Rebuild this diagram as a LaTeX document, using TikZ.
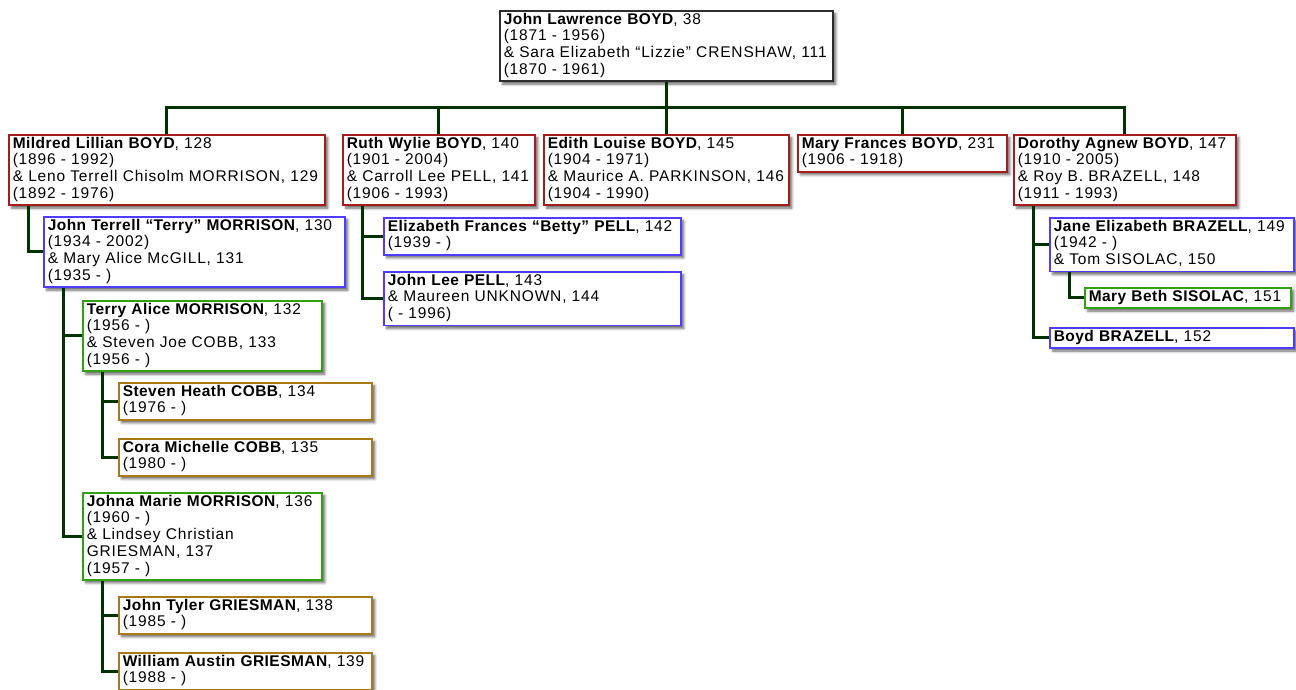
\documentclass[tikz,border=0pt]{standalone}
\usepackage{fontspec}
\setmainfont{Liberation Sans}[LetterSpace=5.4,BoldFeatures={LetterSpace=3}]
\usetikzlibrary{shadows.blur}
\definecolor{linkgreen}{RGB}{0,51,0}
\definecolor{rootgray}{RGB}{45,45,45}
\definecolor{genred}{RGB}{165,28,28}
\definecolor{genblue}{RGB}{80,60,255}
\definecolor{gengreen}{RGB}{50,160,20}
\definecolor{gengold}{RGB}{170,120,20}
% long lines may run into the right padding instead of wrapping
\newcommand\boxpar{\parindent=0pt\rightskip=-24pt plus 1fil\relax\hyphenpenalty=10000\relax}
\tikzset{
  box/.style={rectangle,draw,line width=1.5pt,fill=white,anchor=north west,
              inner xsep=4pt,inner ysep=1.8pt,font=\fontsize{15.5}{16.7}\selectfont,
              execute at begin node={\boxpar\strut},execute at end node=\strut,
              blur shadow={shadow xshift=3pt,shadow yshift=-3pt,shadow blur radius=2.5pt,
                           shadow blur steps=6,shadow opacity=60}},
  rootbox/.style={box,draw=rootgray},
  rbox/.style={box,draw=genred},
  bbox/.style={box,draw=genblue},
  gbox/.style={box,draw=gengreen},
  obox/.style={box,draw=gengold},
  ln/.style={draw=linkgreen,line width=3pt},
}
\begin{document}
\begin{tikzpicture}[x=1pt,y=-1pt]
  \useasboundingbox (0,0) rectangle (1296,689);
  % parents
  \node[rootbox,text width=325pt] (jlboyd) at (499,10)
    {\textbf{John Lawrence BOYD}, 38\\(1871 - 1956)\\\& Sara Elizabeth “Lizzie” CRENSHAW, 111\\(1870 - 1961)};
  % children
  \node[rbox,text width=308pt] (mildred) at (8,134)
    {\textbf{Mildred Lillian BOYD}, 128\\(1896 - 1992)\\\& Leno Terrell Chisolm MORRISON, 129\\(1892 - 1976)};
  \node[rbox,text width=184pt] (ruth) at (342,134)
    {\textbf{Ruth Wylie BOYD}, 140\\(1901 - 2004)\\\& Carroll Lee PELL, 141\\(1906 - 1993)};
  \node[rbox,text width=237pt] (edith) at (543,134)
    {\textbf{Edith Louise BOYD}, 145\\(1904 - 1971)\\\& Maurice A. PARKINSON, 146\\(1904 - 1990)};
  \node[rbox,text width=201pt] (maryfr) at (797,134)
    {\textbf{Mary Frances BOYD}, 231\\(1906 - 1918)};
  \node[rbox,text width=214pt] (dorothy) at (1013,134)
    {\textbf{Dorothy Agnew BOYD}, 147\\(1910 - 2005)\\\& Roy B. BRAZELL, 148\\(1911 - 1993)};
  % grandchildren
  \node[bbox,text width=293pt] (jterry) at (43,216)
    {\textbf{John Terrell “Terry” MORRISON}, 130\\(1934 - 2002)\\\& Mary Alice McGILL, 131\\(1935 - )};
  \node[bbox,text width=289pt] (betty) at (383,217)
    {\textbf{Elizabeth Frances “Betty” PELL}, 142\\(1939 - )};
  \node[bbox,text width=289pt] (jlee) at (383,271)
    {\textbf{John Lee PELL}, 143\\\& Maureen UNKNOWN, 144\\( - 1996)};
  \node[bbox,text width=236pt] (jane) at (1049,217)
    {\textbf{Jane Elizabeth BRAZELL}, 149\\(1942 - )\\\& Tom SISOLAC, 150};
  \node[bbox,text width=236pt] (boyd) at (1049,327)
    {\textbf{Boyd BRAZELL}, 152};
  % great-grandchildren
  \node[gbox,text width=198pt] (marybeth) at (1084,287)
    {\textbf{Mary Beth SISOLAC}, 151};
  \node[gbox,text width=231pt] (terry) at (82,300)
    {\textbf{Terry Alice MORRISON}, 132\\(1956 - )\\\& Steven Joe COBB, 133\\(1956 - )};
  \node[gbox,text width=231pt] (johna) at (82,492)
    {\textbf{Johna Marie MORRISON}, 136\\(1960 - )\\\& Lindsey Christian\\GRIESMAN, 137\\(1957 - )};
  \node[obox,text width=245pt] (steven) at (118,382)
    {\textbf{Steven Heath COBB}, 134\\(1976 - )};
  \node[obox,text width=245pt] (cora) at (118,438)
    {\textbf{Cora Michelle COBB}, 135\\(1980 - )};
  \node[obox,text width=245pt] (jtyler) at (118,596)
    {\textbf{John Tyler GRIESMAN}, 138\\(1985 - )};
  \node[obox,text width=245pt] (william) at (118,652)
    {\textbf{William Austin GRIESMAN}, 139\\(1988 - )};

  % links
  \coordinate (bar) at (666,107);
  \draw[ln] (jlboyd.south -| bar) -- (bar);
  \draw[ln] (mildred.north) |- (bar) -| (dorothy.north);
  \foreach \k in {ruth,edith,maryfr}
    \draw[ln] (\k.north) -- (\k.north |- bar);
  \foreach \p/\c in {mildred/jterry,ruth/betty,ruth/jlee,dorothy/jane,dorothy/boyd,
                     jane/marybeth,jterry/terry,jterry/johna,terry/steven,terry/cora,
                     johna/jtyler,johna/william}
    \draw[ln] ([xshift=20pt]\p.south west) |- (\c.west);
\end{tikzpicture}
\end{document}
